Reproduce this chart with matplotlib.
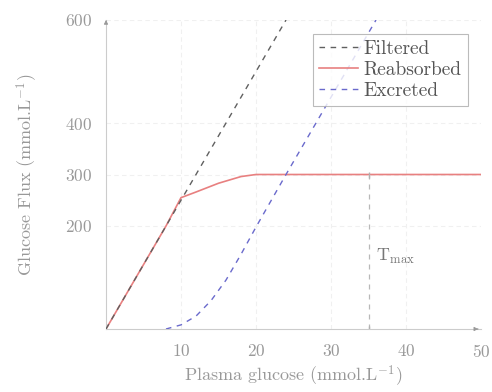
import matplotlib
matplotlib.use("Agg")
import matplotlib.pyplot as plt

plt.rcParams['font.family'] = ['cmr10', 'DejaVu Serif']
plt.rcParams['mathtext.fontset'] = 'cm'
plt.rcParams['axes.formatter.use_mathtext'] = True

# Data
filtered_x = [0, 24]
filtered_y = [0, 600]
reabs_x = [0, 8, 10, 12, 15, 18, 20, 50]
reabs_y = [0, 200, 255, 266, 283, 296, 300, 300]
excr_x = [8, 10, 12, 14, 16, 18, 20, 24, 36]
excr_y = [0, 8, 25, 55, 95, 145, 198, 300, 600]
tmax_x = 35
tmax_y = 300
xticks = [10, 20, 30, 40, 50]
yticks = [200, 300, 400, 600]

fig = plt.figure(figsize=(4.92, 3.92), dpi=100)
ax = fig.add_axes([106/492, 63/392, 375/492, 309/392])

grid_c = '#f0f0f0'
for t in xticks[:-1]:
    ax.axvline(t, color=grid_c, lw=0.8, ls=(0, (4, 3)), zorder=0)
for t in yticks:
    ax.axhline(t, color=grid_c, lw=0.8, ls=(0, (4, 3)), zorder=0)

ax.plot(filtered_x, filtered_y, color='#606060', lw=1.0, ls=(0, (4, 4)), label='Filtered', zorder=3)
ax.plot(reabs_x, reabs_y, color='#e88080', lw=1.2, label='Reabsorbed', zorder=2)
ax.plot(excr_x, excr_y, color='#6a6acc', lw=1.0, ls=(0, (4, 4)), label='Excreted', zorder=3)

ax.plot([tmax_x, tmax_x], [0, tmax_y], color='#b8b8b8', lw=0.9, ls=(0, (4, 4)), zorder=1)
ax.plot([tmax_x, tmax_x], [0, tmax_y], marker='|', ls='none', color='#b0b0b0', ms=4)
ax.text(36, 140, r'$\mathrm{T}_{\max}$', color='#777777', fontsize=13, va='center', ha='left')

ax.set_xlim(0, 50)
ax.set_ylim(0, 600)
ax.set_xticks(xticks)
ax.set_yticks(yticks)
ax.tick_params(length=0, colors='#999999', labelsize=12.5, pad=10)
for lab in ax.get_xticklabels() + ax.get_yticklabels():
    lab.set_color('#999999')

for s in ['top', 'right']:
    ax.spines[s].set_visible(False)
for s in ['left', 'bottom']:
    ax.spines[s].set_color('#cccccc')
    ax.spines[s].set_linewidth(0.8)

ax.annotate('', xy=(50, 0), xytext=(49.2, 0),
            arrowprops=dict(arrowstyle='-|>', color='#999999', lw=0.6, mutation_scale=6),
            annotation_clip=False)
ax.annotate('', xy=(0, 600), xytext=(0, 590),
            arrowprops=dict(arrowstyle='-|>', color='#999999', lw=0.6, mutation_scale=6),
            annotation_clip=False)

ax.set_xlabel(r'Plasma glucose (mmol.L$^{\mathregular{-1}}$)', color='#999999', fontsize=13, labelpad=3)
ax.set_ylabel(r'Glucose Flux (mmol.L$^{\mathregular{-1}}$)', color='#999999', fontsize=13, labelpad=18)

leg = ax.legend(loc='upper right', bbox_to_anchor=(0.99, 0.985), fontsize=14, frameon=True,
                fancybox=False, edgecolor='#aaaaaa', handlelength=2.0, borderpad=0.3,
                labelspacing=0.15, handletextpad=0.3)
leg.get_frame().set_linewidth(0.8)
for t in leg.get_texts():
    t.set_color('#555555')

fig.savefig('out.png', dpi=100)
